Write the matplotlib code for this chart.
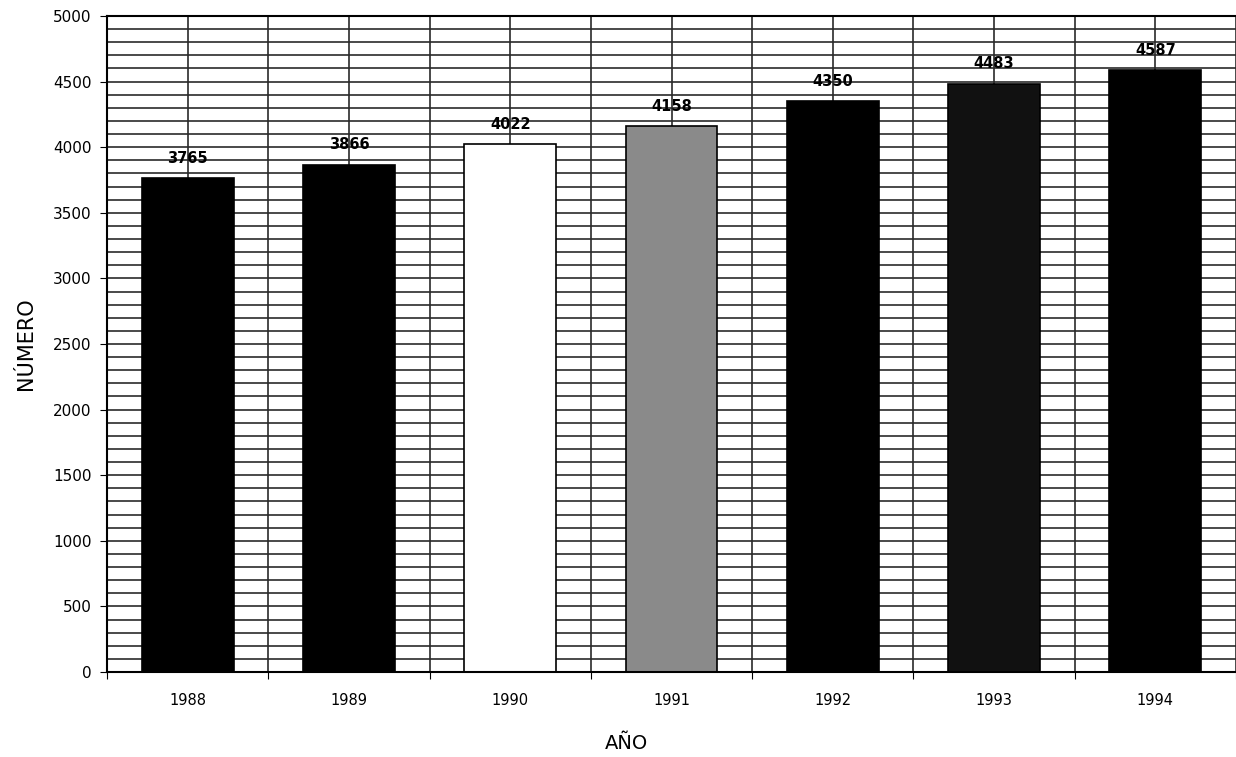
import numpy as np
import matplotlib
matplotlib.use('Agg')
import matplotlib.pyplot as plt

years = ['1988', '1989', '1990', '1991', '1992', '1993', '1994']
values = [3765, 3866, 4022, 4158, 4350, 4483, 4587]
colors = ['black', 'black', 'white', '#8a8a8a', 'black', '#111111', 'black']

fig = plt.figure(figsize=(12.36, 7.57), dpi=100)
ax = fig.add_axes([107 / 1236, 1 - 672 / 757, 1 - 107 / 1236, (672 - 16) / 757])

x = np.arange(len(years))

# dense background grid: every 100 units and every half category
for yv in np.arange(100, 5001, 100):
    ax.axhline(yv, color='#2a2a2a', lw=1.2, zorder=0)
for xv in np.arange(-0.5, len(years), 0.5):
    ax.axvline(xv, color='#2a2a2a', lw=1.2, zorder=0)

bars = ax.bar(x, values, width=0.57, color=colors, edgecolor='black', linewidth=1.2, zorder=2)

for xi, v in zip(x, values):
    ax.annotate(str(v), (xi, v), xytext=(0, 9), textcoords='offset points',
                ha='center', va='bottom', fontsize=10.5, fontweight='bold', zorder=3)

ax.set_xlim(-0.5, 6.426)
ax.set_ylim(0, 5000)
ax.set_yticks(np.arange(0, 5001, 500))
ax.set_xticks(np.arange(-0.5, len(years), 1))
ax.set_xticklabels([])
ax.set_xticks(x, minor=True)
ax.set_xticklabels(years, minor=True)
ax.tick_params(axis='x', which='minor', length=0, pad=15, labelsize=10.5)
ax.tick_params(axis='x', which='major', length=5, direction='out')
ax.tick_params(axis='y', length=5, labelsize=11, pad=6)

for s in ['left', 'bottom', 'top']:
    ax.spines[s].set_linewidth(1.5)
ax.spines['right'].set_visible(False)

ax.set_ylabel('NÚMERO', fontsize=15, labelpad=12)
ax.set_xlabel('AÑO', fontsize=14)
ax.xaxis.set_label_coords((626 - 107) / (1236 - 107), -0.095)

fig.savefig('out.png', dpi=100)
